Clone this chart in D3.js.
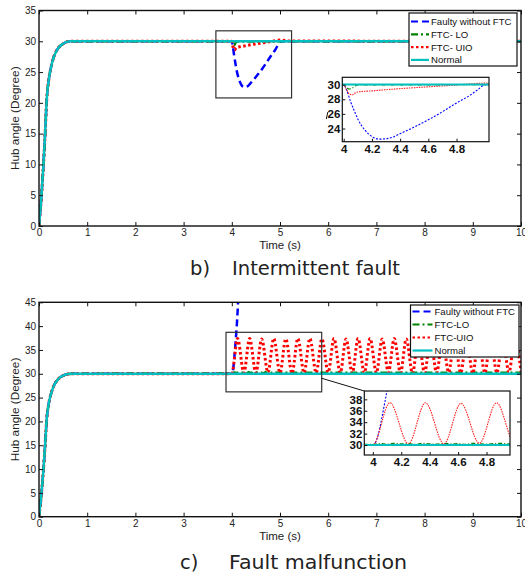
<!DOCTYPE html>
<html><head><meta charset="utf-8">
<script src="https://cdn.jsdelivr.net/npm/d3@7"></script>
<style>body{margin:0;background:#fff}svg{display:block;font-family:"Liberation Sans",Arial,sans-serif}</style>
</head><body><svg id="c" width="525" height="577"></svg>
<script>
// ---------- DATA ----------
const timeTicks = [0,1,2,3,4,5,6,7,8,9,10];
const angleTicksB = [0,5,10,15,20,25,30,35];
const angleTicksC = [0,5,10,15,20,25,30,35,40,45];
const insetTimeTicks = [4,4.2,4.4,4.6,4.8];
const insetAngleTicksB = [24,26,28,30];
const insetAngleTicksC = [30,32,34,36,38];
const legendLabelsB = ["Faulty without FTC","FTC- LO","FTC- UIO","Normal"];
const legendLabelsC = ["Faulty without FTC","FTC-LO","FTC-UIO","Normal"];
const captionB = ["b)","Intermittent fault"];
const captionC = ["c)","Fault malfunction"];

// shared start-up response (0 -> 30 deg)
const stepT = [0,0.05,0.09,0.13,0.16,0.2,0.25,0.3,0.4,0.5,0.6,0.7];
const stepY = [0,4.8,9.6,15.5,20.5,23.6,25.8,27.3,28.9,29.6,29.95,30];

// (b) intermittent fault, from t = 4 s
const bFaultyT = [4.0,4.02,4.05,4.08,4.1,4.15,4.2,4.25,4.3,4.35,4.4,4.5,4.6,4.7,4.8,4.9,4.95,5.0,5.05,10];
const bFaultyY = [30,29.3,27.6,26.2,25.3,23.8,22.9,22.55,22.6,22.85,23.3,24.2,25.2,26.3,27.5,28.6,29.3,29.95,30,30];
const bLoT = [4.0,4.02,4.04,4.06,4.08,4.1,4.3,5.0,10];
const bLoY = [30,29.6,29.4,29.5,29.8,29.95,29.95,30,30];
const bUioT = [4.0,4.02,4.04,4.06,4.08,4.1,4.2,4.4,4.6,4.8,4.9,5.0,5.2,10];
const bUioY = [30,29.3,28.7,28.6,28.85,29.0,29.15,29.45,29.7,29.95,30.1,30.2,30.05,30];
const bNormalT = [10];
const bNormalY = [30];

// (c) fault malfunction, from t = 4 s
const cFaultyT = [4.0,4.02,4.04,4.06,4.08,4.1,4.12,4.14];
const cFaultyY = [30,30.5,32,34.3,36.9,39.6,43,47.5];
const cLoT = [4.0,4.05,4.1,4.15,4.2,4.25,4.3,4.35,4.4,4.45,4.5,4.55,4.6,4.65,4.7,4.75,4.8,4.85,4.9,4.95,5.0,10];
const cLoY = [30.1,30.25,30.15,30.3,30.2,30.25,30.1,30.3,30.2,30.15,30.3,30.2,30.25,30.1,30.3,30.2,30.15,30.25,30.3,30.2,30.2,30.2];
const cUioT = [4.0,4.12,4.25,4.37,4.5,4.62,4.75,4.87,5.0,5.12,5.25,5.37,5.5,5.62,5.75,5.87,6.0,6.12,6.25,6.37,6.5,6.62,6.75,6.87,7.0,7.12,7.25,7.37,7.5,7.62,7.75,7.87,8.0,8.12,8.25,8.37,8.5,8.62,8.75,8.87,9.0,9.12,9.25,9.37,9.5,9.62,9.75,9.87,10.0];
const cUioY = [30.0,37.4,30.2,37.4,30.2,37.3,30.3,37.4,30.2,37.3,30.1,37.4,30.2,37.4,30.2,37.3,30.3,37.4,30.2,37.3,30.1,37.4,30.2,37.4,30.2,37.3,30.3,37.4,30.2,37.3,30.1,37.4,30.2,37.4,30.2,37.3,30.3,37.4,30.2,37.3,30.1,37.4,30.2,37.4,30.2,37.3,30.3,37.4,30.4];
const cNormalT = [10];
const cNormalY = [30];

// ---------- STYLES ----------
const mainStyle = {
  faulty:{color:"#0000ff", w:2.5, dash:"7,4"},
  lo:{color:"#008000", w:2.5, dash:"7,3,2,3"},
  uio:{color:"#ff0000", w:3, dash:"2.5,2.5"},
  normal:{color:"#00bfbf", w:2.5, dash:null}
};
const insetStyle = {
  faulty:{color:"#0000ff", w:1.1, dash:"2,1.5"},
  lo:{color:"#008000", w:1.2, dash:"4,2,1,2"},
  uio:{color:"#ff2020", w:1.1, dash:"1.5,1"},
  normal:{color:"#00bfbf", w:2, dash:null}
};
const keys = ["faulty","lo","uio","normal"];

function pts(ts, vs){ return ts.map((t,i)=>[t, vs[i]]); }
function withStep(ts, vs){ return pts(stepT, stepY).concat(pts(ts, vs)); }

const svg = d3.select("#c");
const defs = svg.append("defs");

function styleLine(sel, st){
  sel.attr("fill","none").attr("stroke",st.color).attr("stroke-width",st.w);
  if (st.dash) sel.attr("stroke-dasharray",st.dash);
  return sel;
}

function drawPanel(p){
  const x = d3.scaleLinear().domain([0,10]).range([39,521]);
  const y = d3.scaleLinear().domain([0,p.yMax]).range(p.yRange);
  const g = svg.append("g");
  defs.append("clipPath").attr("id","clip"+p.id).append("rect")
    .attr("x",x(0)).attr("y",y(p.yMax)).attr("width",x(10)-x(0)).attr("height",y(0)-y(p.yMax));
  const line = d3.line().x(d=>x(d[0])).y(d=>y(d[1])).curve(d3.curveMonotoneX);
  const lg = g.append("g").attr("clip-path",`url(#clip${p.id})`);
  keys.forEach(k=>{
    styleLine(lg.append("path").datum(p.series[k]).attr("d",line), mainStyle[k]);
  });
  // axes
  const fmt = d3.format("d");
  const ax = [
    g.append("g").attr("transform",`translate(0,${y(0)})`).call(d3.axisBottom(x).tickValues(timeTicks).tickSize(-4).tickPadding(3).tickFormat(fmt)),
    g.append("g").attr("transform",`translate(${x(0)},0)`).call(d3.axisLeft(y).tickValues(p.yTicks).tickSize(-4).tickPadding(3).tickFormat(fmt)),
    g.append("g").attr("transform",`translate(0,${y(p.yMax)})`).call(d3.axisTop(x).tickValues(timeTicks).tickSize(-4).tickFormat("")),
    g.append("g").attr("transform",`translate(${x(10)},0)`).call(d3.axisRight(y).tickValues(p.yTicks).tickSize(-4).tickFormat(""))
  ];
  ax.forEach(a=>{
    a.select(".domain").remove();
    a.selectAll("line").attr("stroke","#111").attr("stroke-width",1);
    a.selectAll("text").attr("font-size",10).attr("fill","#222").attr("font-family","Liberation Sans, Arial, sans-serif");
  });
  g.append("rect").attr("x",x(0)).attr("y",y(p.yMax)).attr("width",x(10)-x(0)).attr("height",y(0)-y(p.yMax))
    .attr("fill","none").attr("stroke","#111").attr("stroke-width",1.4);
  // axis labels
  g.append("text").attr("x",(x(0)+x(10))/2).attr("y",y(0)+23).attr("text-anchor","middle")
    .attr("font-size",11.5).attr("fill","#222").text("Time (s)");
  g.append("text").attr("transform",`translate(19,${(y(0)+y(p.yMax))/2}) rotate(-90)`).attr("text-anchor","middle")
    .attr("font-size",11.8).attr("fill","#222").text("Hub angle (Degree)");
  // zoom box
  const zb = p.zoomBox;
  g.append("rect").attr("x",x(zb.x0)).attr("y",y(zb.y1)).attr("width",x(zb.x1)-x(zb.x0)).attr("height",y(zb.y0)-y(zb.y1))
    .attr("fill","none").attr("stroke","#333").attr("stroke-width",1.2);
  // inset
  const ins = p.inset;
  const ix = d3.scaleLinear().domain(ins.xDomain).range(ins.xRange);
  const iy = d3.scaleLinear().domain(ins.yDomain).range(ins.yRange);
  if (p.connector){
    g.append("line").attr("x1",x(zb.x1)).attr("y1",y(p.connector)).attr("x2",ins.xRange[0]).attr("y2",ins.yRange[1])
      .attr("stroke","#111").attr("stroke-width",1);
  }
  g.append("rect").attr("x",ins.xRange[0]).attr("y",ins.yRange[1]).attr("width",ins.xRange[1]-ins.xRange[0]).attr("height",ins.yRange[0]-ins.yRange[1]).attr("fill","#fff");
  defs.append("clipPath").attr("id","iclip"+p.id).append("rect")
    .attr("x",ins.xRange[0]).attr("y",ins.yRange[1]).attr("width",ins.xRange[1]-ins.xRange[0]).attr("height",ins.yRange[0]-ins.yRange[1]);
  const iline = d3.line().x(d=>ix(d[0])).y(d=>iy(d[1])).curve(d3.curveMonotoneX);
  const ilg = g.append("g").attr("clip-path",`url(#iclip${p.id})`);
  keys.forEach(k=>{
    styleLine(ilg.append("path").datum(p.series[k]).attr("d",iline), insetStyle[k]);
  });
  const iax = [
    g.append("g").attr("transform",`translate(0,${ins.yRange[0]})`).call(d3.axisBottom(ix).tickValues(insetTimeTicks).tickSize(-3).tickPadding(3).tickFormat(d=>d3.format("~g")(d))),
    g.append("g").attr("transform",`translate(${ins.xRange[0]},0)`).call(d3.axisLeft(iy).tickValues(ins.yTicks).tickSize(-3).tickPadding(2).tickFormat(fmt))
  ];
  iax.forEach(a=>{
    a.select(".domain").remove();
    a.selectAll("line").attr("stroke","#111");
    a.selectAll("text").attr("font-size",11.5).attr("font-weight","bold").attr("fill","#111").attr("font-family","Liberation Sans, Arial, sans-serif");
  });
  g.append("rect").attr("x",ins.xRange[0]).attr("y",ins.yRange[1]).attr("width",ins.xRange[1]-ins.xRange[0]).attr("height",ins.yRange[0]-ins.yRange[1])
    .attr("fill","none").attr("stroke","#111").attr("stroke-width",1.2);
  if (p.slash){
    g.append("line").attr("x1",ins.xRange[0]-16).attr("y1",iy(25.7)+3).attr("x2",ins.xRange[0]-14.5).attr("y2",iy(25.7)-4)
      .attr("stroke","#111").attr("stroke-width",1);
  }
  // legend
  const L = p.legend;
  g.append("rect").attr("x",L.x).attr("y",L.y).attr("width",L.w).attr("height",L.h)
    .attr("fill","#fff").attr("stroke","#111").attr("stroke-width",1.2);
  keys.forEach((k,i)=>{
    const yy = L.y + L.first + i*L.step;
    const st = Object.assign({}, mainStyle[k], {w:2.2});
    styleLine(g.append("line").attr("x1",L.x+2).attr("x2",L.x+L.sample).attr("y1",yy).attr("y2",yy), st);
    g.append("text").attr("x",L.x+L.sample+2).attr("y",yy+3.5).attr("font-size",9.6).attr("fill","#111").text(p.labels[i]);
  });
  // caption
  g.append("text").attr("x",p.cap.x0).attr("y",p.cap.y).attr("font-family","DejaVu Sans, sans-serif").attr("font-size",19.5).attr("fill","#222").text(p.caption[0]);
  g.append("text").attr("x",p.cap.x1).attr("y",p.cap.y).attr("font-family","DejaVu Sans, sans-serif").attr("font-size",19.5).attr("fill","#222")
    .attr("textLength",p.cap.len).attr("lengthAdjust","spacingAndGlyphs").text(p.caption[1]);
}

drawPanel({
  id:"b", yMax:35, yRange:[226,10.5], yTicks:angleTicksB,
  series:{
    faulty:withStep(bFaultyT,bFaultyY), lo:withStep(bLoT,bLoY),
    uio:withStep(bUioT,bUioY), normal:withStep(bNormalT,bNormalY)
  },
  zoomBox:{x0:3.67,x1:5.24,y0:20.8,y1:31.7},
  inset:{xDomain:[3.99,5.03], xRange:[342.3,489], yDomain:[22.2,31], yRange:[141.7,77.3], yTicks:insetAngleTicksB},
  slash:true,
  legend:{x:409,y:13,w:108,h:53,first:8.5,step:12.8,sample:20},
  labels:legendLabelsB, caption:captionB,
  cap:{x0:190,x1:232,len:168,y:275}
});
drawPanel({
  id:"c", yMax:45, yRange:[516.7,302.3], yTicks:angleTicksC,
  series:{
    faulty:withStep(cFaultyT,cFaultyY), lo:withStep(cLoT,cLoY),
    uio:withStep(cUioT,cUioY), normal:withStep(cNormalT,cNormalY)
  },
  zoomBox:{x0:3.88,x1:5.865,y0:26.2,y1:38.7},
  connector:29.05,
  inset:{xDomain:[3.94,4.965], xRange:[364.3,510], yDomain:[28.25,39.46], yRange:[455,391], yTicks:insetAngleTicksC},
  legend:{x:410.5,y:305,w:108.5,h:52,first:6.5,step:13,sample:22},
  labels:legendLabelsC, caption:captionC,
  cap:{x0:180,x1:229,len:178,y:569}
});
</script></body></html>
